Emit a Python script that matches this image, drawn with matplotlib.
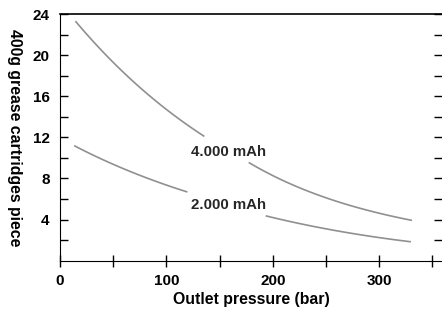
import numpy as np
import matplotlib.pyplot as plt
from matplotlib.ticker import FixedLocator

plt.rcParams['font.family'] = ['Liberation Sans', 'DejaVu Sans']
plt.rcParams['font.weight'] = 'bold'

# 4.000 mAh curve (two pieces, gap for the label)
x4a = [15, 47, 78, 106, 135]
y4a = [23.3, 19.5, 16.6, 14.3, 12.1]
x4b = [178, 232, 279, 330]
y4b = [9.47, 6.9, 5.1, 3.95]

# 2.000 mAh curve
x2a = [14, 63, 119]
y2a = [11.15, 8.8, 6.7]
x2b = [194, 247, 329]
y2b = [4.34, 3.15, 1.84]

labels = ['4.000 mAh', '2.000 mAh']
label_pos = [(158, 10.6), (158, 5.4)]

fig = plt.figure(figsize=(4.42, 3.11), dpi=100)
ax = fig.add_axes([60/442, (311-260.6)/311, 1.0 - 60/442, (260.6-14)/311])

for xs, ys in [(x4a, y4a), (x4b, y4b), (x2a, y2a), (x2b, y2b)]:
    xs = np.array(xs, float)
    ys = np.array(ys, float)
    # smooth through the read points
    c = np.polyfit(xs, np.log(ys), min(2, len(xs) - 1))
    xx = np.linspace(xs[0], xs[-1], 100)
    ax.plot(xx, np.exp(np.polyval(c, xx)), color='#909090', lw=1.2)

for t, (px, py) in zip(labels, label_pos):
    ax.text(px, py, t, ha='center', va='center', fontsize=10.8,
            fontweight='bold', color='#262626')

ax.set_xlim(0, 359)
ax.set_ylim(0, 24)

ax.xaxis.set_major_locator(FixedLocator([0, 100, 200, 300]))
ax.xaxis.set_minor_locator(FixedLocator([50, 150, 250, 350]))
ax.yaxis.set_major_locator(FixedLocator([4, 8, 12, 16, 20, 24]))
ax.yaxis.set_minor_locator(FixedLocator([2, 6, 10, 14, 18, 22]))

ax.tick_params(axis='x', which='both', direction='inout', length=9, width=1,
               labelsize=11, pad=5)
ax.tick_params(axis='y', which='both', direction='in', length=6, width=1,
               labelsize=11, right=True, pad=7.5)

for lab in ax.get_xticklabels() + ax.get_yticklabels():
    lab.set_fontweight('bold')

ax.spines['right'].set_visible(False)
ax.spines['top'].set_linewidth(1.2)

ax.set_xlabel('Outlet pressure (bar)', fontsize=11.4, fontweight='bold', labelpad=3)
ax.set_ylabel('400g grease cartridges piece', fontsize=11.4, fontweight='bold',
              rotation=-90)
ax.yaxis.set_label_coords(-0.14, 0.5)

fig.savefig('out.png', dpi=100)
